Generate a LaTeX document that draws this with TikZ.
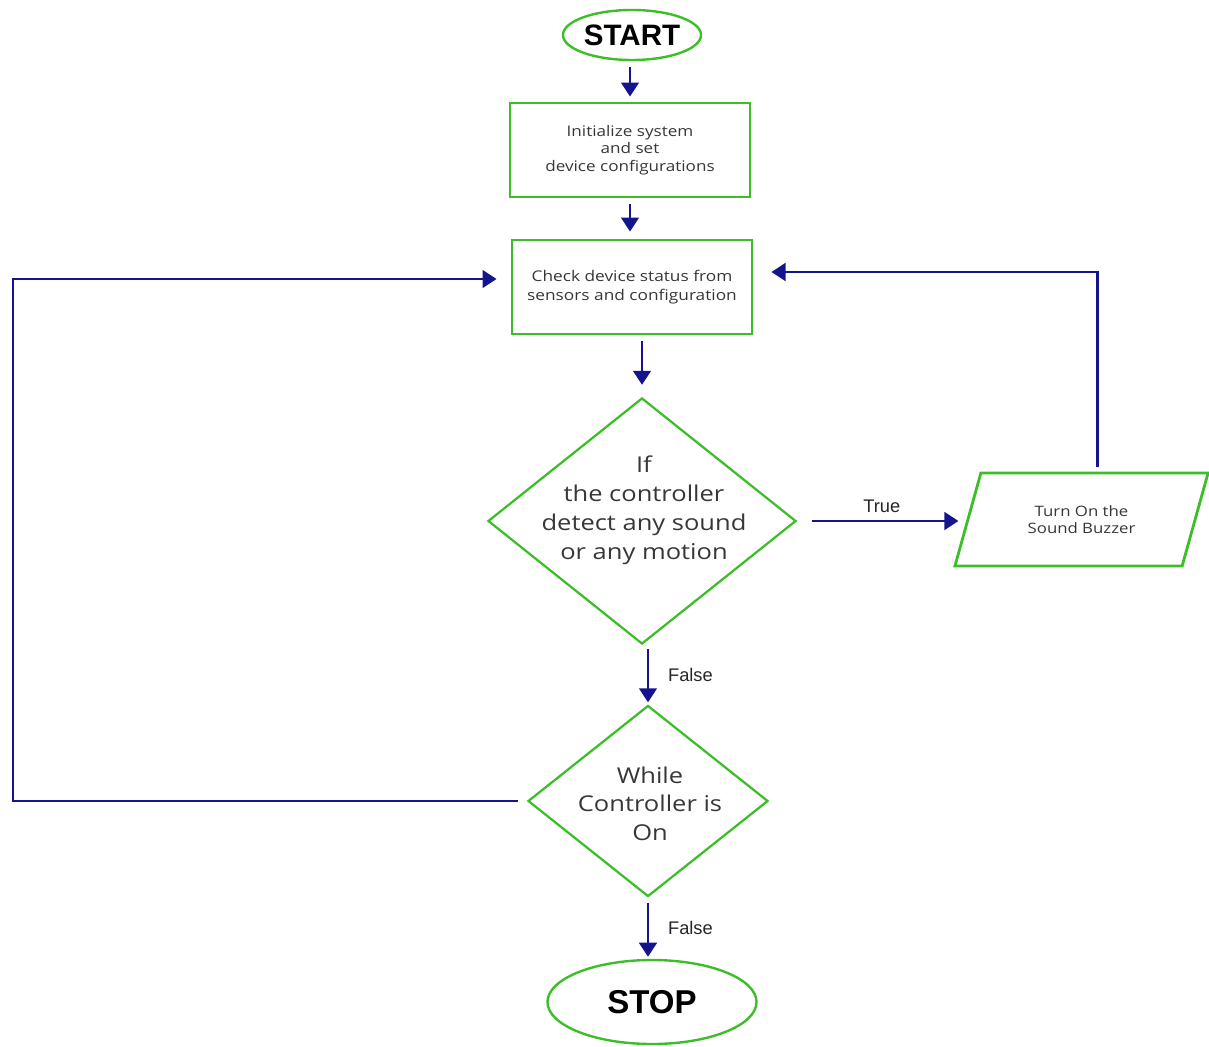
\documentclass[tikz,border=0pt]{standalone}
\usepackage{fontspec}
\setmainfont[FakeStretch=1.17]{Open Sans}
\newfontfamily\arialfont{Liberation Sans}
\usetikzlibrary{arrows.meta,shapes.geometric,calc}
\definecolor{boxgreen}{RGB}{60,190,40}
\definecolor{flowblue}{RGB}{20,20,140}
\definecolor{txtgrey}{RGB}{55,55,55}

\begin{document}
\begin{tikzpicture}[x=0.025cm, y=-0.025cm,
	term/.style={ellipse, draw=boxgreen, line width=1.7pt, inner sep=0pt, font=\arialfont\bfseries},
	procbox/.style={rectangle, draw=boxgreen, line width=2pt, inner sep=0pt, text=txtgrey, align=center, font=\fontsize{10.4}{12.4}\selectfont},
	decision/.style={diamond, draw=boxgreen, line width=1.6pt, inner sep=0pt},
	flow/.style={draw=flowblue, line width=2pt, -{Triangle[length=10pt,width=12.5pt]}},
	flowlabel/.style={font=\arialfont\fontsize{13}{15}\selectfont, text=black!85}]

\useasboundingbox (0,0) rectangle (1209,1046);

% terminals
\node[term, minimum width=3.45cm, minimum height=1.25cm, font=\arialfont\bfseries\fontsize{21}{24}\selectfont] (start) at (632,35) {START};
\node[term, minimum width=5.225cm, minimum height=2.1cm, font=\arialfont\bfseries\fontsize{23.5}{28}\selectfont] (stop) at (652,1002) {STOP};

% process boxes
\node[procbox, minimum width=6cm, minimum height=2.35cm] (init) at (630,150) {Initialize system\\and set\\device configurations};
\node[procbox, minimum width=6cm, minimum height=2.35cm, font=\fontsize{10.5}{13.5}\selectfont] (check) at (632,287) {Check device status from\\sensors and configuration};

% decisions
\node[decision, minimum width=7.7cm, minimum height=6.15cm,
	label={[align=center, text=txtgrey, font=\fontsize{15.5}{20.5}\selectfont, xshift=0.05cm, yshift=0.27cm]center:{If\\the controller\\detect any sound\\or any motion}}] (detect) at (642,521) {};
\node[decision, minimum width=6cm, minimum height=4.775cm,
	label={[align=center, text=txtgrey, font=\fontsize{15.5}{20.5}\selectfont, xshift=0.05cm, yshift=-0.07cm]center:{While\\Controller is\\On}}] (while) at (648,801) {};

% buzzer
\node[trapezium, trapezium left angle=64, trapezium right angle=116, trapezium stretches=true,
	draw=boxgreen, line width=2pt, inner sep=0pt, minimum width=6.375cm, minimum height=2.325cm,
	text=txtgrey, align=center, font=\fontsize{10.2}{12.4}\selectfont] (buzzer) at (1081.5,519.5) {Turn On the\\Sound Buzzer};

% main flow
\draw[flow, shorten <=0.15cm, shorten >=0.125cm] (init.north |- start.south) -- (init.north);
\draw[flow, shorten <=0.15cm, shorten >=0.175cm] (init.south) -- (init.south |- check.north);
\draw[flow, shorten <=0.15cm, shorten >=0.3cm] (detect.north |- check.south) -- (detect.north);
\draw[flow, shorten <=0.1cm, shorten >=0.05cm] (while.north |- detect.south) -- (while.north)
	node[flowlabel, midway, right, xshift=0.35cm] {False};
\draw[flow, shorten <=0.125cm, shorten >=0.05cm] (while.south) -- (while.south |- stop.north)
	node[flowlabel, midway, right, xshift=0.35cm] {False};

% true branch
\draw[flow, shorten <=0.375cm, shorten >=0.2cm] (detect.east) -- (detect.east -| buzzer.west)
	node[flowlabel, midway, above, yshift=0.05cm] {True};
\coordinate (buzzertop) at ($(buzzer.north)+(16,0)$);
\coordinate (checkback) at ($(check.east)+(0,-15)$);
\draw[flow, shorten <=0.125cm, shorten >=0.45cm] (buzzertop) |- (checkback);

% loop back
\coordinate (leftrail) at (13,0);
\coordinate (checkin) at ($(check.west)+(0,-8)$);
\draw[flow, shorten <=0.225cm, shorten >=0.35cm] (while.west) -- (while.west -| leftrail) |- (checkin);

\end{tikzpicture}
\end{document}
